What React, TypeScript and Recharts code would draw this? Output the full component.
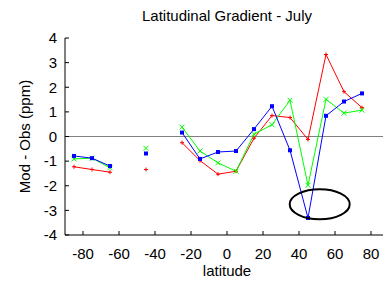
import React from 'react'
import { LineChart, Line, XAxis, YAxis, ReferenceLine, ReferenceDot } from 'recharts'

const latitudes = [-85, -75, -65, -55, -45, -35, -25, -15, -5, 5, 15, 25, 35, 45, 55, 65, 75]
const blueSeries = [-0.79, -0.88, -1.2, null, -0.69, null, 0.16, -0.91, -0.63, -0.59, 0.3, 1.23, -0.56, -3.31, 0.84, 1.42, 1.75]
const greenSeries = [-0.91, -0.88, -1.27, null, -0.48, null, 0.38, -0.59, -1.07, -1.41, 0.09, 0.48, 1.47, -1.98, 1.51, 0.95, 1.07]
const redSeries = [-1.23, -1.34, -1.45, null, -1.34, null, -0.25, -0.98, -1.53, -1.41, -0.07, 0.85, 0.77, -0.12, 3.33, 1.82, 1.17]
const xTicks = [-80, -60, -40, -20, 0, 20, 40, 60, 80]
const yTicks = [-4, -3, -2, -1, 0, 1, 2, 3, 4]
// circled outlier annotation
const circleLat = 51.5
const circleVal = -2.75

const data = latitudes.map((lat, i) => ({
  lat,
  blue: blueSeries[i],
  green: greenSeries[i],
  red: redSeries[i],
}))

const font = '"Liberation Sans", Arial, sans-serif'

function SquareDot(props: any) {
  const { cx, cy, value } = props
  if (value == null || cy == null) return <g key={props.key} />
  return <rect key={props.key} x={cx - 2} y={cy - 2} width={4} height={4} fill="#0000ff" />
}

function CrossDot(props: any) {
  const { cx, cy, value } = props
  if (value == null || cy == null) return <g key={props.key} />
  return (
    <path key={props.key} d={`M${cx - 2.5},${cy - 2.5}L${cx + 2.5},${cy + 2.5}M${cx - 2.5},${cy + 2.5}L${cx + 2.5},${cy - 2.5}`} stroke="#00ff00" strokeWidth={1} />
  )
}

function PlusDot(props: any) {
  const { cx, cy, value } = props
  if (value == null || cy == null) return <g key={props.key} />
  return (
    <path key={props.key} d={`M${cx - 2},${cy}L${cx + 2},${cy}M${cx},${cy - 2}L${cx},${cy + 2}`} stroke="#ff0000" strokeWidth={1} />
  )
}

function Ellipse(props: any) {
  const { cx, cy } = props
  return <ellipse cx={cx} cy={cy} rx={30} ry={15} fill="none" stroke="#000" strokeWidth={2} />
}

export default function App() {
  return (
    <div style={{ position: 'absolute', left: 0, top: 0, width: 383, height: 281, overflow: 'hidden', background: '#fff', fontFamily: font }}>
      <div style={{ position: 'absolute', left: 65, top: 7, width: 324, textAlign: 'center', fontSize: 15, lineHeight: '17px', color: '#000' }}>
        Latitudinal Gradient - July
      </div>
      <LineChart width={400} height={281} data={data} margin={{ top: 38, right: 11, bottom: 0, left: 0 }} style={{ fontFamily: font }}>
        <XAxis
          xAxisId="top"
          orientation="top"
          dataKey="lat"
          type="number"
          domain={[-90, 90]}
          ticks={xTicks}
          height={0}
          tick={false}
          tickSize={-4}
          stroke="#000"
        />
        <XAxis
          xAxisId="bottom"
          dataKey="lat"
          type="number"
          domain={[-90, 90]}
          ticks={xTicks}
          height={46}
          tickSize={-4}
          tickMargin={17}
          stroke="#000"
          tick={{ fill: '#000', fontSize: 15 }}
          label={{ value: 'latitude', position: 'insideBottom', offset: 5, fill: '#000', fontSize: 15 }}
        />
        <YAxis
          domain={[-4, 4]}
          ticks={yTicks}
          width={65}
          tickSize={-4}
          tickMargin={12}
          stroke="#000"
          tick={{ fill: '#000', fontSize: 15 }}
          label={{ value: 'Mod - Obs (ppm)', angle: -90, position: 'center', dx: -8, fill: '#000', fontSize: 15 }}
        />
        <ReferenceLine xAxisId="bottom" y={0} stroke="#808080" strokeWidth={1} />
        <Line xAxisId="bottom" dataKey="red" stroke="#ff0000" strokeWidth={1} dot={PlusDot} isAnimationActive={false} connectNulls={false} />
        <Line xAxisId="bottom" dataKey="green" stroke="#00ff00" strokeWidth={1} dot={CrossDot} isAnimationActive={false} connectNulls={false} />
        <Line xAxisId="bottom" dataKey="blue" stroke="#0000ff" strokeWidth={1} dot={SquareDot} isAnimationActive={false} connectNulls={false} />
        <ReferenceDot xAxisId="bottom" x={circleLat} y={circleVal} shape={Ellipse} />
      </LineChart>
    </div>
  )
}
